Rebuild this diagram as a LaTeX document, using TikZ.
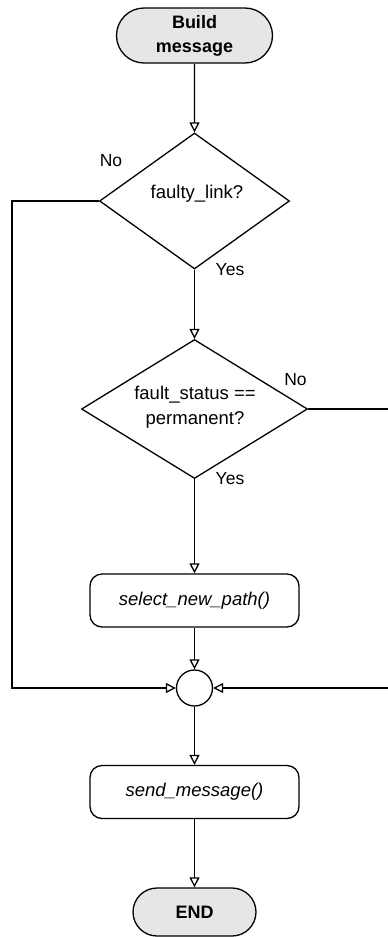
\documentclass[tikz,border=0pt]{standalone}
\usepackage{fontspec}
\setmainfont{Liberation Sans}
\usetikzlibrary{shapes.geometric,shapes.misc,arrows.meta}
\definecolor{termgray}{HTML}{E6E6E6}
\begin{document}
\begin{tikzpicture}[x=1pt,y=-1pt,
  every node/.style={font=\fontsize{18.5}{25}\selectfont},
  line/.style={line width=1.3pt},
  arr/.style={line, -{Triangle[open,length=10pt,width=10pt,fill=white]}},
  terminal/.style={draw, line width=1.3pt, rounded rectangle, fill=termgray,
    font=\fontsize{18}{24}\selectfont\bfseries, align=center, inner sep=0pt},
  decision/.style={draw, line width=1.3pt, diamond, inner sep=0pt},
  question/.style={align=center, inner sep=0pt},
  process/.style={draw, line width=1.3pt, rounded corners=12pt,
    font=\fontsize{18.5}{24}\selectfont\itshape, inner sep=0pt,
    minimum width=209pt, minimum height=53pt},
  junction/.style={draw, line width=1.3pt, circle, inner sep=0pt, minimum size=36pt},
  branch/.style={inner sep=0pt, font=\fontsize{17.5}{20}\selectfont}]
\useasboundingbox (0,0) rectangle (388,937);

% flow elements
\node[terminal, minimum width=156pt, minimum height=55pt] (start) at (194.5,35.5) {Build\\message};
\node[decision, minimum width=190pt, minimum height=136pt] (d1) at (194.5,201) {};
\node[question] (q1) at (197,194) {faulty\_link?};
\node[decision, minimum width=226pt, minimum height=139pt] (d2) at (194.5,409) {};
\node[question] (q2) at (195,407) {fault\_status ==\\permanent?};
\node[process] (sel) at (194.5,600.5) {select\_new\_path()};
\node[junction] (j) at (194.5,688) {};
\node[process] (send) at (194.5,792) {send\_message()};
\node[terminal, minimum width=123pt, minimum height=48pt] (end) at (194.5,912) {END};

% branch labels
\node[branch] (no1) at (111,161) {No};
\node[branch] (yes1) at (230,270) {Yes};
\node[branch] (no2) at (295.5,380) {No};
\node[branch] (yes2) at (230,479) {Yes};

% bypass corners
\coordinate (L) at (12,688);
\coordinate (R) at (388.5,688);

% connectors
\draw[arr] (start) -- (d1.north);
\draw[arr] (d1.south) -- (d2.north);
\draw[arr] (d2.south) -- (sel.north);
\draw[arr] (sel.south) -- (j.north);
\draw[arr] (d1.west) -| (L) -- (j.west);
\draw[arr] (d2.east) -| (R) -- (j.east);
\draw[arr] (j.south) -- (send.north);
\draw[arr] (send.south) -- (end.north);
\end{tikzpicture}
\end{document}
